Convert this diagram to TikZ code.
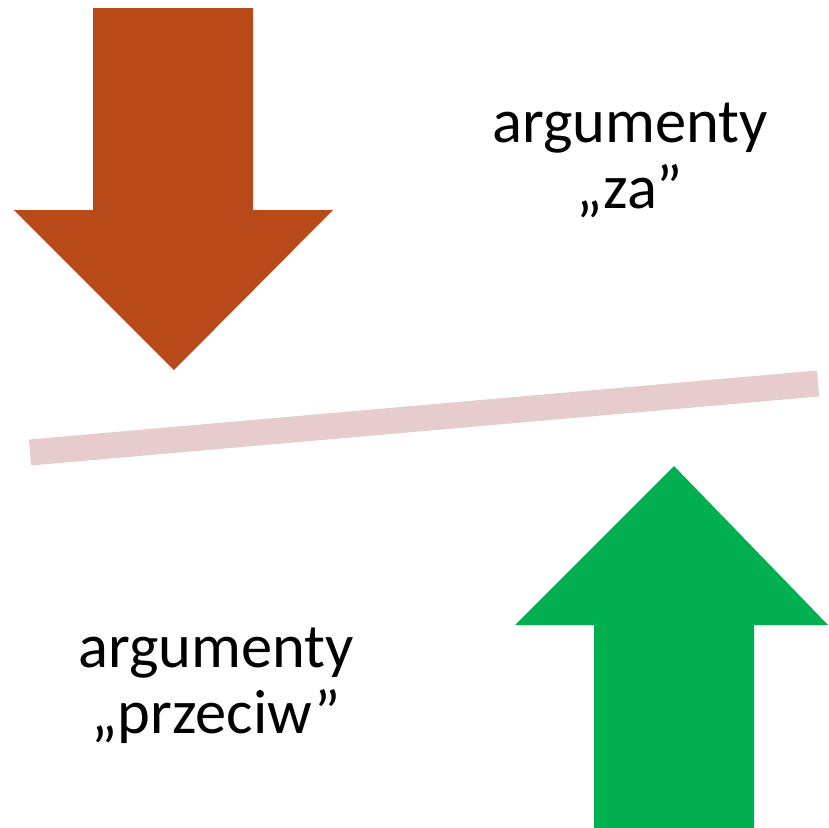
\documentclass[tikz,border=0pt]{standalone}
\usepackage{fontspec}
\setmainfont{Carlito}
\usepackage{xcolor}
\usepackage{tikz}
\definecolor{zabrown}{HTML}{B84A1A}
\definecolor{przgreen}{HTML}{00B050}
\definecolor{scalepink}{HTML}{E6CCCC}

\begin{document}
\begin{tikzpicture}[
    x=1pt, y=-1pt,
    bigarrow/.style = {draw=none},
    beam/.style     = {draw=scalepink, line width=26pt},
    lbl/.style      = {anchor=base, align=center, inner sep=0pt,
                       font=\fontsize{62.5}{66}\selectfont}
  ]
  \useasboundingbox (0,0) rectangle (828,828);

  % Arrow pressing down
  \fill[bigarrow, zabrown] (93,8) -- (253,8) -- (253,210) -- (333,210)
    -- (174,370) -- (14,210) -- (93,210) -- cycle;

  % Arrow pushing up
  \fill[bigarrow, przgreen] (594,828) -- (754,828) -- (754,625) -- (828,625)
    -- (674,466) -- (515,625) -- (594,625) -- cycle;

  % Balance beam
  \coordinate (beamL) at (30,452.5);
  \coordinate (beamR) at (818,383.5);
  \draw[beam] (beamL) -- (beamR);

  % Labels (base = last line)
  \node[lbl] (za)      at (630,208) {argumenty\\„za”};
  \node[lbl] (przeciw) at (216,733) {argumenty\\„przeciw”};
\end{tikzpicture}
\end{document}
